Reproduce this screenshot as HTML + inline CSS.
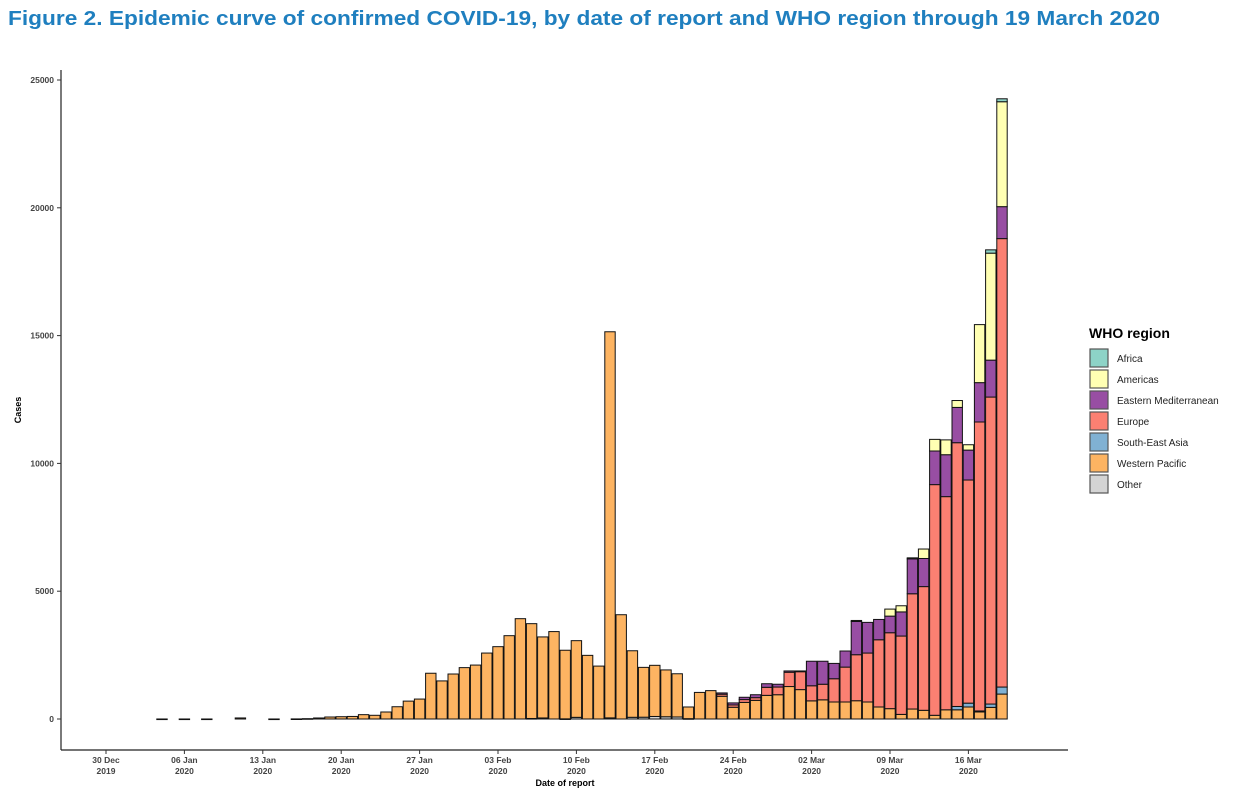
<!DOCTYPE html>
<html><head><meta charset="utf-8"><style>
html,body{margin:0;padding:0;background:#fff;width:1234px;height:789px;overflow:hidden}
svg{display:block;font-family:"Liberation Sans",Arial,sans-serif}
</style></head><body>
<svg id="chart" width="1234" height="789" viewBox="0 0 1234 789">
<text x="8" y="25" font-size="20" font-weight="bold" fill="#1F7FBF" textLength="1152" lengthAdjust="spacingAndGlyphs">Figure 2. Epidemic curve of confirmed COVID-19, by date of report and WHO region through 19 March 2020</text>
<g id="plot"></g>
<text transform="translate(21,410) rotate(-90)" font-size="9" font-weight="bold" text-anchor="middle" fill="#000">Cases</text>
<text x="565" y="786" font-size="9" font-weight="bold" text-anchor="middle" fill="#000">Date of report</text>
<g id="legend">
<text x="1089" y="338" font-size="14" font-weight="bold" fill="#000">WHO region</text>
</g>
</svg>
<script>
const dates=['2020-01-04','2020-01-06','2020-01-08','2020-01-11','2020-01-14','2020-01-16',
'2020-01-17','2020-01-18','2020-01-19','2020-01-20','2020-01-21','2020-01-22','2020-01-23','2020-01-24','2020-01-25','2020-01-26','2020-01-27','2020-01-28','2020-01-29','2020-01-30','2020-01-31',
'2020-02-01','2020-02-02','2020-02-03','2020-02-04','2020-02-05','2020-02-06','2020-02-07','2020-02-08','2020-02-09','2020-02-10','2020-02-11','2020-02-12','2020-02-13','2020-02-14','2020-02-15','2020-02-16','2020-02-17','2020-02-18','2020-02-19','2020-02-20','2020-02-21','2020-02-22','2020-02-23','2020-02-24','2020-02-25','2020-02-26','2020-02-27','2020-02-28','2020-02-29',
'2020-03-01','2020-03-02','2020-03-03','2020-03-04','2020-03-05','2020-03-06','2020-03-07','2020-03-08','2020-03-09','2020-03-10','2020-03-11','2020-03-12','2020-03-13','2020-03-14','2020-03-15','2020-03-16','2020-03-17','2020-03-18','2020-03-19'];
const other=[0,0,0,0,0,0, 0,0,0,0,0,0,0,0,0,0,0,0,0,0,0, 0,0,0,0,0,20,41,0,6,65,0,0,44,0,67,70,99,88,79,13,0,0,0,0,0,0,0,0,0, 0,0,0,0,0,0,0,0,0,0,0,0,0,0,0,0,0,0,0];
const westernPacific=[1,1,1,41,1,4, 13,40,78,90,100,170,145,274,480,700,780,1790,1490,1760,2010,
2110,2580,2830,3260,3925,3710,3170,3420,2684,3000,2490,2070,15106,4080,2603,1950,2001,1832,1691,457,1040,1110,890,460,650,730,925,950,1270,
1150,710,750,665,665,715,665,470,405,180,390,340,145,360,360,470,275,455,975];
const southEastAsia=[0,0,0,0,0,0, 0,0,0,0,0,0,0,0,0,0,0,0,0,0,0, 0,0,0,0,0,0,0,0,0,0,0,0,0,0,0,0,0,0,0,0,0,0,0,0,0,0,0,0,0, 0,0,0,0,0,0,0,0,0,0,0,0,0,0,130,150,40,130,275];
const europe=[0,0,0,0,0,0, 0,0,0,0,0,0,0,0,0,0,0,0,0,0,0, 0,0,0,0,0,0,0,0,0,0,0,0,0,0,0,0,0,0,0,0,0,0,80,90,110,105,315,300,560,
700,590,610,910,1365,1800,1915,2630,2970,3065,4510,4840,9025,8340,10320,8730,11305,12010,17545];
const easternMed=[0,0,0,0,0,0, 0,0,0,0,0,0,0,0,0,0,0,0,0,0,0, 0,0,0,0,0,0,0,0,0,0,0,0,0,0,0,0,0,0,0,0,0,0,50,80,90,115,140,110,50,
30,960,900,600,630,1300,1200,795,650,945,1365,1100,1315,1640,1380,1170,1540,1445,1250];
const americas=[0,0,0,0,0,0, 0,0,0,0,0,0,0,0,0,0,0,0,0,0,0, 0,0,0,0,0,0,0,0,0,0,0,0,0,0,0,0,0,0,0,0,0,0,0,0,0,0,0,0,0,
0,0,0,0,0,40,0,0,275,240,40,370,455,580,270,210,2270,4185,4105];
const africa=[0,0,0,0,0,0, 0,0,0,0,0,0,0,0,0,0,0,0,0,0,0, 0,0,0,0,0,0,0,0,0,0,0,0,0,0,0,0,0,0,0,0,0,0,0,0,0,0,0,0,0,
0,0,0,0,0,0,0,0,0,0,0,0,0,0,0,0,0,130,115];
const yTicks=[0,5000,10000,15000,20000,25000];
const xTickDates=['2019-12-30','2020-01-06','2020-01-13','2020-01-20','2020-01-27','2020-02-03','2020-02-10','2020-02-17','2020-02-24','2020-03-02','2020-03-09','2020-03-16'];
const xTickLabels=[['30 Dec','2019'],['06 Jan','2020'],['13 Jan','2020'],['20 Jan','2020'],['27 Jan','2020'],['03 Feb','2020'],['10 Feb','2020'],['17 Feb','2020'],['24 Feb','2020'],['02 Mar','2020'],['09 Mar','2020'],['16 Mar','2020']];
const regionNames=['Africa','Americas','Eastern Mediterranean','Europe','South-East Asia','Western Pacific','Other'];

const NS='http://www.w3.org/2000/svg';
const colors={'Other':'#D4D4D4','Western Pacific':'#FDB462','South-East Asia':'#80B1D3','Europe':'#FB8072','Eastern Mediterranean':'#984EA3','Americas':'#FFFFB3','Africa':'#8DD3C7'};
const stack=[['Other',other],['Western Pacific',westernPacific],['South-East Asia',southEastAsia],['Europe',europe],['Eastern Mediterranean',easternMed],['Americas',americas],['Africa',africa]];
const origin=Date.UTC(2019,11,30);
function dayOf(s){const p=s.split('-');return (Date.UTC(+p[0],+p[1]-1,+p[2])-origin)/86400000;}
function xScale(s){return 106+dayOf(s)*11.2;}
function yScale(v){return 719-v*(639/25000);}
function mk(tag,attrs,parent){const e=document.createElementNS(NS,tag);for(const k in attrs)e.setAttribute(k,attrs[k]);parent.appendChild(e);return e;}
const plot=document.getElementById('plot');
// axes
const ya=mk('line',{x1:61,y1:70,x2:61,y2:750,stroke:'#222','stroke-width':1.2},plot);


const xa=mk('line',{x1:61,y1:750,x2:1068,y2:750,stroke:'#222','stroke-width':1.2},plot);


yTicks.forEach(v=>{
  const y=yScale(v);
  const t=mk('line',{x1:57,y1:y,x2:61,y2:y,stroke:'#333'},plot);
  
  
  const l=mk('text',{x:54,y:y+3,'font-size':8.5,'font-weight':'bold','text-anchor':'end',fill:'#444'},plot);
  
  
  l.textContent=v;
});
xTickDates.forEach((d,i)=>{
  const x=xScale(d);
  const t=mk('line',{x1:x,y1:750,x2:x,y2:754,stroke:'#333'},plot);
  
  
  const l=mk('text',{x:x,y:763,'font-size':8.5,'font-weight':'bold','text-anchor':'middle',fill:'#444'},plot);
  
  
  const a=mk('tspan',{x:x,dy:0},l);a.textContent=xTickLabels[i][0];
  const b=mk('tspan',{x:x,dy:11},l);b.textContent=xTickLabels[i][1];
});
// bars
dates.forEach((d,i)=>{
  const cx=xScale(d);let cum=0;
  stack.forEach(([name,arr])=>{
    const v=arr[i];if(!v)return;
    const y0=yScale(cum),y1=yScale(cum+v);cum+=v;
    const r=mk('rect',{x:cx-5.2,y:y1,width:10.4,height:Math.max(0.6,y0-y1),fill:colors[name],stroke:'#111','stroke-width':1},plot);
    
    
  });
});
// legend
const lg=document.getElementById('legend');
regionNames.forEach((n,i)=>{
  const y=349+i*21;
  const r=mk('rect',{x:1090,y:y,width:18,height:18,fill:colors[n],stroke:'#555','stroke-width':1.2},lg);
  
  
  const t=mk('text',{x:1117,y:y+13,'font-size':10,fill:'#222'},lg);
  
  
  t.textContent=n;
});
</script>
</body></html>
